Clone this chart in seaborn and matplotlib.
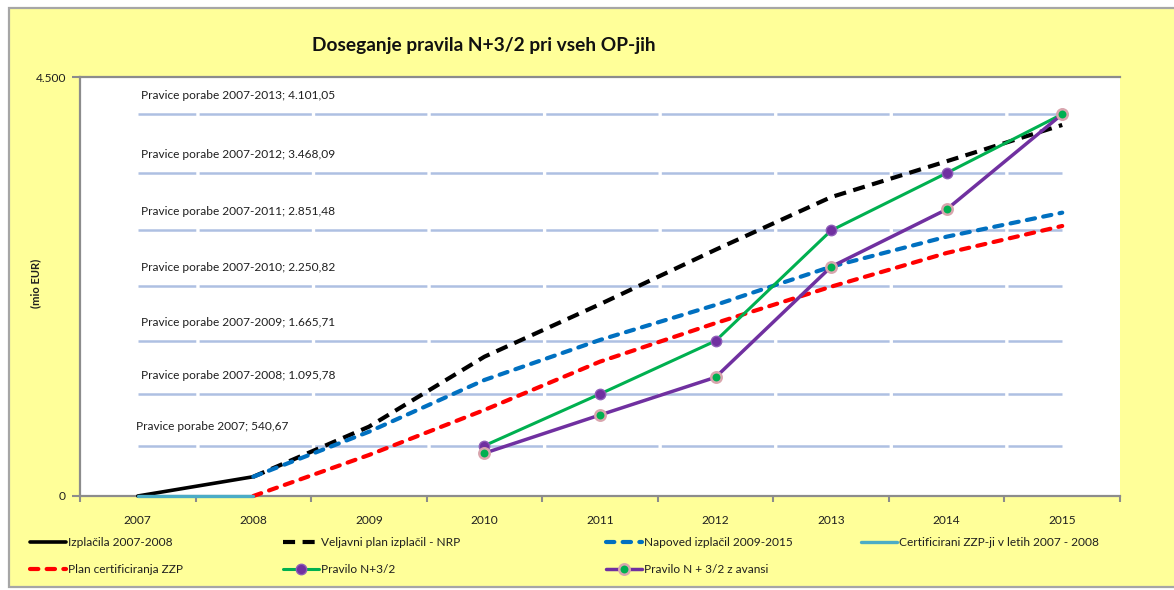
import matplotlib
matplotlib.use("Agg")
import matplotlib.pyplot as plt
from matplotlib.patches import Rectangle
from matplotlib.ticker import FuncFormatter
import numpy as np
import seaborn as sns

# ---------------- data ----------------
years = [2007, 2008, 2009, 2010, 2011, 2012, 2013, 2014, 2015]

izplacila_years = [2007, 2008]
izplacila = [0, 207]

nrp_years = [2008, 2009, 2010, 2011, 2012, 2013, 2014, 2015]
nrp = [207, 744, 1496, 2060, 2645, 3210, 3595, 3985]

napoved_years = [2008, 2009, 2010, 2011, 2012, 2013, 2014, 2015]
napoved = [207, 690, 1246, 1676, 2052, 2463, 2785, 3043]

cert_years = [2007, 2008]
certificirani = [0, 0]

plan_years = [2008, 2009, 2010, 2011, 2012, 2013, 2014, 2015]
plan_cert = [0, 440, 924, 1443, 1857, 2248, 2610, 2900]

pravilo_years = [2010, 2011, 2012, 2013, 2014, 2015]
pravilo = [540.67, 1095.78, 1665.71, 2851.48, 3468.09, 4101.05]
pravilo_avans = [460, 870, 1275, 2462, 3078, 4101.05]

rights_periods = ["2007", "2007-2008", "2007-2009", "2007-2010",
                  "2007-2011", "2007-2012", "2007-2013"]
rights = [540.67, 1095.78, 1665.71, 2250.82, 2851.48, 3468.09, 4101.05]

title = "Doseganje pravila N+3/2 pri vseh OP-jih"
ylabel = "(mio EUR)"
names = {
    "izpl": "Izplačila 2007-2008",
    "nrp": "Veljavni plan izplačil - NRP",
    "nap": "Napoved izplačil 2009-2015",
    "cert": "Certificirani ZZP-ji v letih 2007 - 2008",
    "plan": "Plan certificiranja ZZP",
    "prav": "Pravilo N+3/2",
    "pravav": "Pravilo N + 3/2 z avansi",
}


def sl_fmt(v, dec=2):
    s = f"{v:,.{dec}f}"
    return s.replace(",", "X").replace(".", ",").replace("X", ".")


# ---------------- style ----------------
sns.set_theme(style="white")
plt.rcParams["font.family"] = ["Lato", "DejaVu Sans"]

W, H = 1174, 590
fig = plt.figure(figsize=(W / 100, H / 100), dpi=100)
fig.patch.set_facecolor("white")
fig.patches.append(Rectangle((9 / W, 3 / H), 1.2, (H - 8 - 3) / H,
                             transform=fig.transFigure, facecolor="#FFFF99",
                             edgecolor="#A6A6A6", lw=1.6, zorder=-10))

ax = fig.add_axes([80 / W, 94 / H, 1040 / W, 419 / H])
ax.set_facecolor("white")

# rights lines (broken at category boundaries like the original)
lw_r = 1.8
cat_pt = (1040 / 9) * 72 / 100
gap_pt = 2.4
on_u = (cat_pt - gap_pt) / lw_r
off_u = gap_pt / lw_r
offset_u = ((cat_pt - gap_pt) - cat_pt / 2) / lw_r
for per, val in zip(rights_periods, rights):
    sns.lineplot(x=[years[0], years[-1]], y=[val, val], ax=ax, color="#AEC0E2",
                 lw=lw_r, linestyle=(offset_u, (on_u, off_u)), zorder=1,
                 errorbar=None)
    ax.annotate(f"Pravice porabe {per}; {sl_fmt(val)}", xy=(years[0], val),
                xytext=(2 if per != "2007" else -1, 13.5), textcoords="offset points",
                ha="left", va="center", fontsize=8.6, color="#1F1F1F")

handles = {}


def draw(key, xs, ys, **kw):
    sns.lineplot(x=xs, y=ys, ax=ax, errorbar=None, sort=False, **kw)
    ln = ax.lines[-1]
    ln.set_clip_on(False)
    ln.set_label(names[key])
    handles[key] = ln


draw("izpl", izplacila_years, izplacila, color="black", lw=2.6, zorder=3)
draw("nrp", nrp_years, nrp, color="black", lw=3.0,
     linestyle=(0, (2.9, 1.8)), zorder=3)
draw("nap", napoved_years, napoved, color="#0070C0", lw=3.0,
     linestyle=(0, (2.0, 2.0)), dash_capstyle="round", zorder=3)
draw("cert", cert_years, certificirani, color="#4BACC6", lw=2.4, zorder=4)
draw("plan", plan_years, plan_cert, color="#FF0000", lw=3.0,
     linestyle=(0, (2.0, 2.0)), dash_capstyle="round", zorder=3)
draw("prav", pravilo_years, pravilo, color="#00B050", lw=2.2, marker="o",
     markersize=7.5, markerfacecolor="#7030A0", markeredgecolor="#8E5CB8",
     markeredgewidth=1.0, zorder=5)
draw("pravav", pravilo_years, pravilo_avans, color="#7030A0", lw=2.5, marker="o",
     markersize=7.5, markerfacecolor="#00B050", markeredgecolor="#D9A6AE",
     markeredgewidth=1.8, zorder=6)

if ax.get_legend() is not None:
    ax.get_legend().remove()

# axes
ax.set_xlim(years[0] - 0.5, years[-1] + 0.5)
ax.set_ylim(0, 4500)
ax.set_xticks(years)
ax.set_xticklabels([str(y) for y in years])
ax.set_xticks(np.arange(years[0] - 0.5, years[-1] + 1), minor=True)
ax.set_yticks([0, 4500])
ax.yaxis.set_major_formatter(FuncFormatter(lambda v, p: sl_fmt(v, 0)))
ax.set_xlabel("")
ax.set_ylabel("")
ax.grid(False)
for side in ["left", "bottom", "top"]:
    ax.spines[side].set_visible(True)
    ax.spines[side].set_color("#8C8C8C")
    ax.spines[side].set_linewidth(1.6)
ax.spines["right"].set_visible(False)
ax.tick_params(axis="x", which="major", length=0, pad=14, labelsize=8.6,
               labelcolor="#1F1F1F")
ax.tick_params(axis="x", which="minor", length=4, width=1.5, color="#8C8C8C",
               direction="out", bottom=True)
ax.tick_params(axis="y", which="major", length=6, width=1.5, color="#8C8C8C",
               direction="out", left=True, pad=4, labelsize=8.6,
               labelcolor="#1F1F1F")

fig.text(484 / W, 1 - 45 / H, title, ha="center", va="center",
         fontsize=13.8, fontweight="bold", color="#111111")
fig.text(36 / W, 1 - 283 / H, ylabel, ha="center", va="center", rotation=90,
         fontsize=8, fontweight="bold", color="#1F1F1F")

# legend: four columns placed like the original
cols = [(30, ["izpl", "plan"]), (283, ["nrp", "prav"]),
        (606, ["nap", "pravav"]), (861, ["cert"])]
for xpx, keys in cols:
    leg = fig.legend([handles[k] for k in keys], [names[k] for k in keys],
                     loc="upper left", bbox_to_anchor=(xpx / W, 1 - 537 / H),
                     frameon=False, fontsize=8.6, handlelength=3.0,
                     handletextpad=0.2, borderpad=0, borderaxespad=0,
                     labelspacing=1.35, numpoints=1)
    for t in leg.get_texts():
        t.set_color("#1F1F1F")

fig.savefig("out.png", dpi=100, facecolor=fig.get_facecolor())
